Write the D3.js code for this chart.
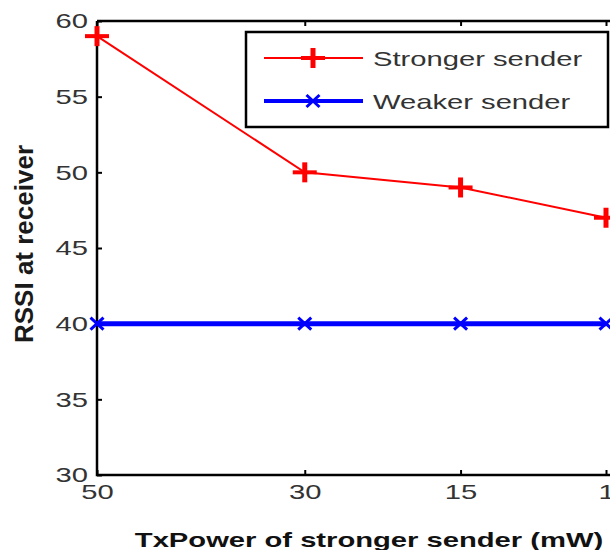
<!DOCTYPE html>
<html><head><meta charset="utf-8">
<script src="https://d3js.org/d3.v7.min.js"></script>
<style>body{margin:0;background:#fff;overflow:hidden}</style>
</head><body>
<script>
const txPower = [50, 30, 15, 1];
const stronger = [59, 50, 49, 47];
const weaker = [40, 40, 40, 40];
const yTicks = [30, 35, 40, 45, 50, 55, 60];
const seriesNames = ["Stronger sender", "Weaker sender"];

const W = 610, H = 550;
const SX = 1.39; // horizontal stretch of text as in the reference
const svg = d3.select("body").append("svg").attr("width", W).attr("height", H);
const font = "Liberation Sans, Arial, sans-serif";

const x = d3.scaleLinear().domain([50, 1]).range([97, 606]);
const y = d3.scaleLinear().domain([30, 60]).range([475, 21]);
const xR = 616;

// frame
svg.append("path").attr("d", `M97,21H${xR}M97,21V475H${xR}`)
  .attr("fill", "none").attr("stroke", "#000").attr("stroke-width", 2.5);

// y axis
const ya = svg.append("g").attr("transform", "translate(97,0)")
  .call(d3.axisLeft(y).tickValues(yTicks).tickSizeInner(-5).tickSizeOuter(0).tickPadding(6.5));
ya.select(".domain").remove();
ya.selectAll(".tick line").attr("stroke", "#000").attr("stroke-width", 2);
ya.selectAll(".tick text").attr("font-family", font).attr("font-size", 21).attr("fill", "#333")
  .attr("transform", `scale(${SX},1)`);

// x axis
const xa = svg.append("g").attr("transform", "translate(0,475)")
  .call(d3.axisBottom(x).tickValues(txPower).tickFormat(d3.format("d")).tickSizeInner(-5).tickSizeOuter(0).tickPadding(9));
xa.select(".domain").remove();
xa.selectAll(".tick line").attr("stroke", "#000").attr("stroke-width", 2);
xa.selectAll(".tick text").attr("font-family", font).attr("font-size", 21).attr("fill", "#333")
  .attr("transform", `scale(${SX},1)`);
// top ticks
svg.append("g").attr("transform", "translate(0,21)")
  .call(d3.axisTop(x).tickValues(txPower).tickFormat("").tickSizeInner(-5).tickSizeOuter(0))
  .call(g => { g.select(".domain").remove(); g.selectAll(".tick line").attr("stroke", "#000").attr("stroke-width", 2); });

// labels
svg.append("text").attr("transform", `translate(369,547) scale(${SX},1)`).attr("text-anchor", "middle")
  .attr("font-family", font).attr("font-weight", "bold").attr("font-size", 21).attr("fill", "#111")
  .text("TxPower of stronger sender (mW)");
svg.append("text").attr("transform", `translate(33,244) rotate(-90)`).attr("text-anchor", "middle")
  .attr("font-family", font).attr("font-size", 26).attr("font-weight", "bold").attr("fill", "#1a1a1a")
  .text("RSSI at receiver");

const line = d3.line().x((d, i) => x(txPower[i])).y(d => y(d));

function plus(g, cx, cy) {
  g.append("path").attr("d", `M${cx-12},${cy}H${cx+12}`)
    .attr("stroke", "#f00").attr("stroke-width", 4).attr("fill", "none");
  g.append("path").attr("d", `M${cx},${cy-10}V${cy+10}`)
    .attr("stroke", "#f00").attr("stroke-width", 5).attr("fill", "none");
}
function cross(g, cx, cy) {
  g.append("path").attr("d", `M${cx-6.5},${cy-6}L${cx+6.5},${cy+6}M${cx-6.5},${cy+6}L${cx+6.5},${cy-6}`)
    .attr("stroke", "#00f").attr("stroke-width", 3).attr("fill", "none");
}

// weaker
svg.append("path").datum(weaker).attr("d", line).attr("fill", "none").attr("stroke", "#00f").attr("stroke-width", 5);
weaker.forEach((v, i) => cross(svg, x(txPower[i]), y(v)));
// stronger
svg.append("path").datum(stronger).attr("d", line).attr("fill", "none").attr("stroke", "#f00").attr("stroke-width", 2);
stronger.forEach((v, i) => plus(svg, x(txPower[i]), y(v)));

// legend
const lg = svg.append("g");
lg.append("rect").attr("x", 246).attr("y", 32).attr("width", 362).attr("height", 95)
  .attr("fill", "#fff").attr("stroke", "#000").attr("stroke-width", 2.5);
const rows = [58, 101];
lg.append("line").attr("x1", 264).attr("x2", 363).attr("y1", rows[0]).attr("y2", rows[0]).attr("stroke", "#f00").attr("stroke-width", 2);
plus(lg, 313, rows[0]);
lg.append("line").attr("x1", 264).attr("x2", 363).attr("y1", rows[1]).attr("y2", rows[1]).attr("stroke", "#00f").attr("stroke-width", 4);
cross(lg, 313, rows[1]);
seriesNames.forEach((n, i) => lg.append("text").attr("transform", `translate(373,${rows[i] + 8}) scale(${SX},1)`)
  .attr("font-family", font).attr("font-size", 21).attr("fill", "#333").text(n));
</script>
</body></html>
